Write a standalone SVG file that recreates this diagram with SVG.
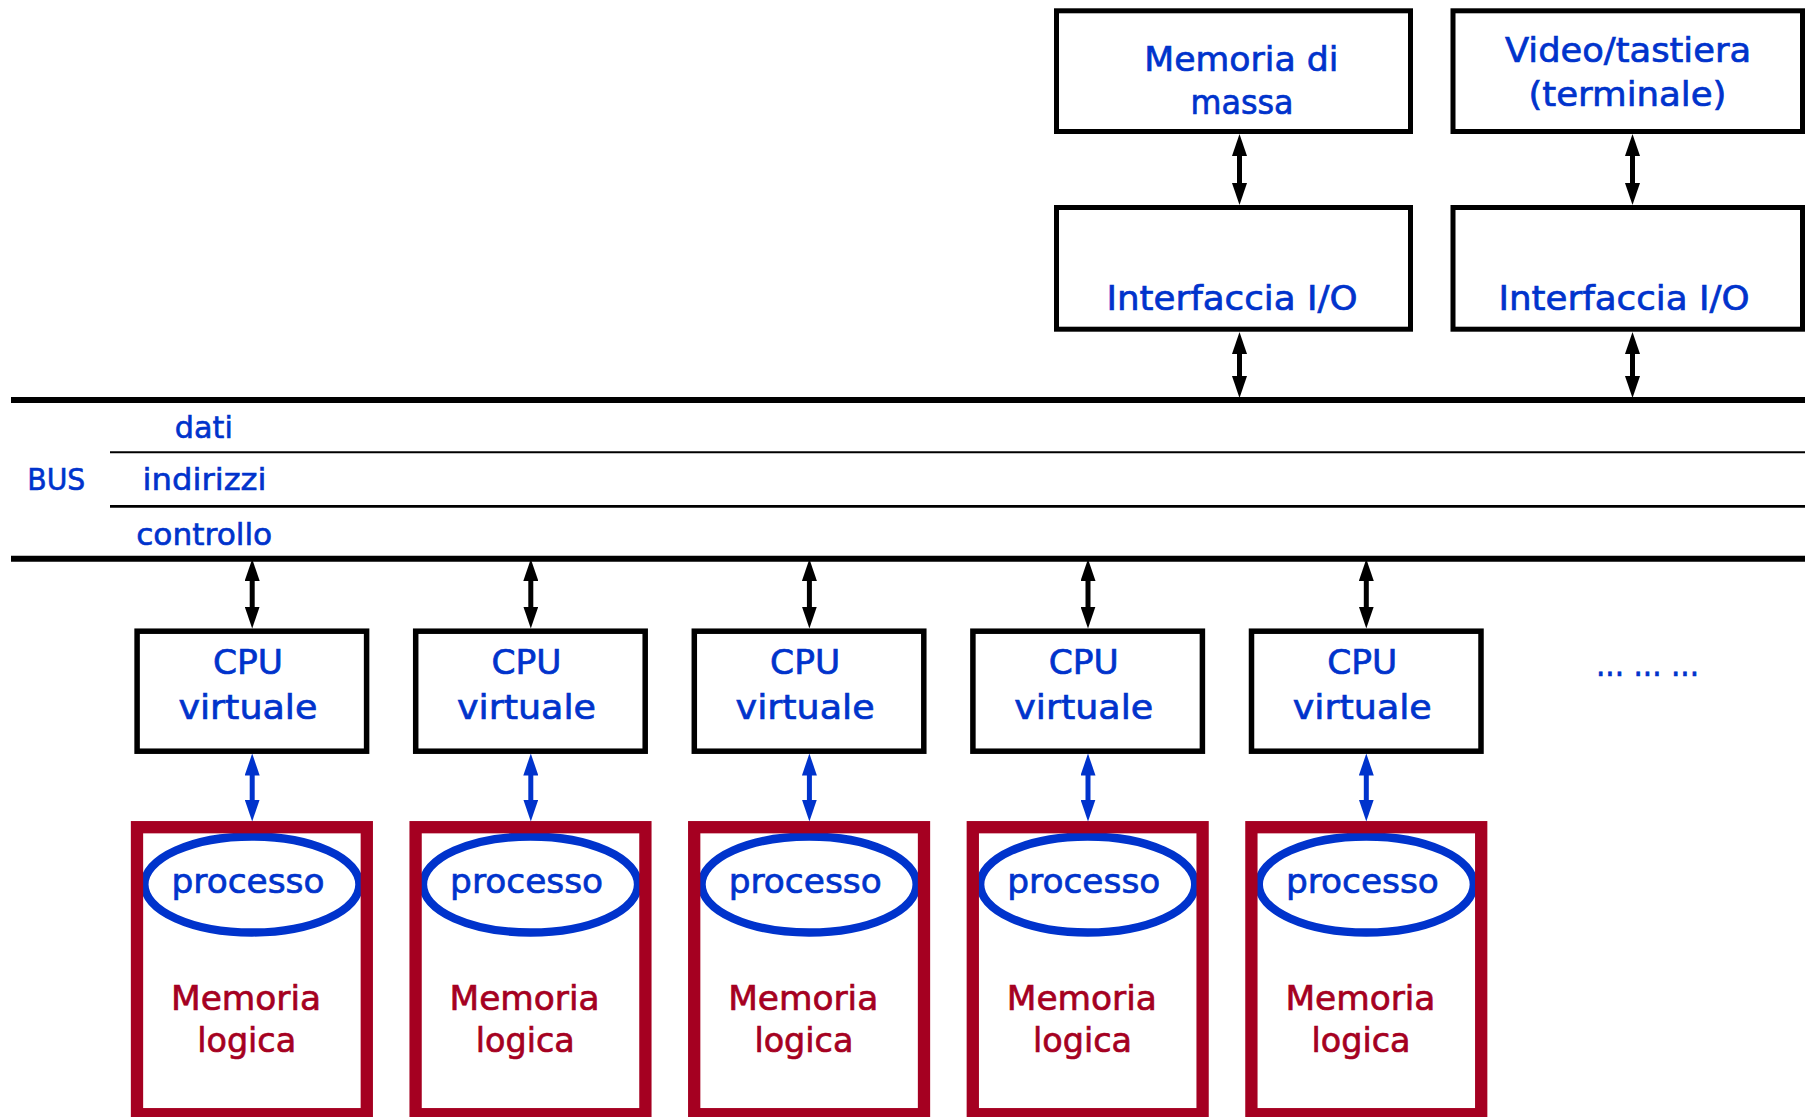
<svg xmlns="http://www.w3.org/2000/svg" width="1805" height="1117" viewBox="0 0 1805 1117">
<style>
  .box{fill:#fff;stroke:#000;stroke-width:5}
  .mem{fill:none;stroke:#A50021;stroke-width:12.3}
  .proc{fill:#fff;stroke:#0033CC;stroke-width:8.3}
  .t{font-family:"DejaVu Sans",Verdana,sans-serif;font-size:34.5px;fill:#0033CC;stroke:#0033CC;stroke-width:0.7;text-anchor:middle}
  .tb{font-family:"DejaVu Sans",Verdana,sans-serif;font-size:30px;fill:#0033CC;stroke:#0033CC;stroke-width:0.6;text-anchor:middle}
  .tr{font-family:"DejaVu Sans",Verdana,sans-serif;font-size:34.5px;fill:#A50021;stroke:#A50021;stroke-width:0.7;text-anchor:middle}
  .ak{stroke:#000;stroke-width:5;fill:none;marker-start:url(#hk);marker-end:url(#hk)}
  .ab{stroke:#0033CC;stroke-width:5;fill:none;marker-start:url(#hb);marker-end:url(#hb)}
  .bus{stroke:#000;stroke-width:6}
</style>
<defs>
  <marker id="hk" viewBox="0 0 22 15" refX="12" refY="7.5" markerWidth="22" markerHeight="15" markerUnits="userSpaceOnUse" orient="auto-start-reverse"><path d="M0,0 L22,7.5 L0,15 z" fill="#000"/></marker>
  <marker id="hb" viewBox="0 0 22 15" refX="12" refY="7.5" markerWidth="22" markerHeight="15" markerUnits="userSpaceOnUse" orient="auto-start-reverse"><path d="M0,0 L22,7.5 L0,15 z" fill="#0033CC"/></marker>
</defs>
<rect width="1805" height="1117" fill="#fff"/>

<g id="bus">
  <line class="bus" x1="11" y1="400" x2="1805" y2="400"/>
  <line x1="110" y1="452.2" x2="1805" y2="452.2" stroke="#000" stroke-width="2"/>
  <line x1="110" y1="506.3" x2="1805" y2="506.3" stroke="#000" stroke-width="2.7"/>
  <line class="bus" x1="11" y1="558.7" x2="1805" y2="558.7"/>
  <text class="tb" x="56.3" y="490" textLength="58" lengthAdjust="spacingAndGlyphs">BUS</text>
  <text class="tb" x="203.8" y="437.7" textLength="58" lengthAdjust="spacingAndGlyphs">dati</text>
  <text class="tb" x="204.5" y="490" textLength="124" lengthAdjust="spacingAndGlyphs">indirizzi</text>
  <text class="tb" x="204.2" y="545" textLength="136" lengthAdjust="spacingAndGlyphs">controllo</text>
</g>

<g id="memoria-di-massa">
  <rect class="box" x="1056.5" y="10.8" width="354" height="120.7"/>
  <text class="t" x="1241.3" y="70.7" textLength="194" lengthAdjust="spacingAndGlyphs">Memoria di</text>
  <text class="t" x="1242" y="114" textLength="103" lengthAdjust="spacingAndGlyphs">massa</text>
</g>
<g id="video-tastiera">
  <rect class="box" x="1453" y="10.8" width="349.5" height="120.7"/>
  <text class="t" x="1628" y="62" textLength="246" lengthAdjust="spacingAndGlyphs">Video/tastiera</text>
  <text class="t" x="1627.4" y="105.5" textLength="198" lengthAdjust="spacingAndGlyphs">(terminale)</text>
</g>
<g id="interfaccia-1">
  <rect class="box" x="1056.5" y="207.5" width="354" height="121.7"/>
  <text class="t" x="1232" y="310" textLength="251" lengthAdjust="spacingAndGlyphs">Interfaccia I/O</text>
</g>
<g id="interfaccia-2">
  <rect class="box" x="1453" y="207.5" width="349.5" height="121.7"/>
  <text class="t" x="1624" y="310" textLength="251" lengthAdjust="spacingAndGlyphs">Interfaccia I/O</text>
</g>

<g id="cpu-1">
  <rect class="box" x="137.1" y="631.2" width="229.5" height="120" style="stroke-width:5.5"/>
  <text class="t" x="247.9" y="674" textLength="70" lengthAdjust="spacingAndGlyphs">CPU</text>
  <text class="t" x="247.9" y="719.3" textLength="139" lengthAdjust="spacingAndGlyphs">virtuale</text>
</g>
<g id="cpu-2">
  <rect class="box" x="415.7" y="631.2" width="229.5" height="120" style="stroke-width:5.5"/>
  <text class="t" x="526.5" y="674" textLength="70" lengthAdjust="spacingAndGlyphs">CPU</text>
  <text class="t" x="526.5" y="719.3" textLength="139" lengthAdjust="spacingAndGlyphs">virtuale</text>
</g>
<g id="cpu-3">
  <rect class="box" x="694.3" y="631.2" width="229.5" height="120" style="stroke-width:5.5"/>
  <text class="t" x="805.1" y="674" textLength="70" lengthAdjust="spacingAndGlyphs">CPU</text>
  <text class="t" x="805.1" y="719.3" textLength="139" lengthAdjust="spacingAndGlyphs">virtuale</text>
</g>
<g id="cpu-4">
  <rect class="box" x="972.9" y="631.2" width="229.5" height="120" style="stroke-width:5.5"/>
  <text class="t" x="1083.7" y="674" textLength="70" lengthAdjust="spacingAndGlyphs">CPU</text>
  <text class="t" x="1083.7" y="719.3" textLength="139" lengthAdjust="spacingAndGlyphs">virtuale</text>
</g>
<g id="cpu-5">
  <rect class="box" x="1251.5" y="631.2" width="229.5" height="120" style="stroke-width:5.5"/>
  <text class="t" x="1362.3" y="674" textLength="70" lengthAdjust="spacingAndGlyphs">CPU</text>
  <text class="t" x="1362.3" y="719.3" textLength="139" lengthAdjust="spacingAndGlyphs">virtuale</text>
</g>

<g id="dots">
  <text class="t" x="1596" y="675.5" style="text-anchor:start" textLength="103" lengthAdjust="spacingAndGlyphs">... ... ...</text>
</g>

<g id="mem-1">
  <ellipse class="proc" cx="251.9" cy="884.5" rx="107.5" ry="48"/>
  <rect class="mem" x="137" y="827.2" width="229.8" height="287"/>
  <text class="t" x="248" y="893.3" textLength="153" lengthAdjust="spacingAndGlyphs">processo</text>
  <text class="tr" x="246" y="1010" textLength="150" lengthAdjust="spacingAndGlyphs">Memoria</text>
  <text class="tr" x="246.7" y="1052.3" textLength="99" lengthAdjust="spacingAndGlyphs">logica</text>
</g>
<g id="mem-2">
  <ellipse class="proc" cx="530.5" cy="884.5" rx="107.5" ry="48"/>
  <rect class="mem" x="415.6" y="827.2" width="229.8" height="287"/>
  <text class="t" x="526.6" y="893.3" textLength="153" lengthAdjust="spacingAndGlyphs">processo</text>
  <text class="tr" x="524.6" y="1010" textLength="150" lengthAdjust="spacingAndGlyphs">Memoria</text>
  <text class="tr" x="525.3" y="1052.3" textLength="99" lengthAdjust="spacingAndGlyphs">logica</text>
</g>
<g id="mem-3">
  <ellipse class="proc" cx="809.1" cy="884.5" rx="107.5" ry="48"/>
  <rect class="mem" x="694.2" y="827.2" width="229.8" height="287"/>
  <text class="t" x="805.2" y="893.3" textLength="153" lengthAdjust="spacingAndGlyphs">processo</text>
  <text class="tr" x="803.2" y="1010" textLength="150" lengthAdjust="spacingAndGlyphs">Memoria</text>
  <text class="tr" x="803.9" y="1052.3" textLength="99" lengthAdjust="spacingAndGlyphs">logica</text>
</g>
<g id="mem-4">
  <ellipse class="proc" cx="1087.7" cy="884.5" rx="107.5" ry="48"/>
  <rect class="mem" x="972.8" y="827.2" width="229.8" height="287"/>
  <text class="t" x="1083.8" y="893.3" textLength="153" lengthAdjust="spacingAndGlyphs">processo</text>
  <text class="tr" x="1081.8" y="1010" textLength="150" lengthAdjust="spacingAndGlyphs">Memoria</text>
  <text class="tr" x="1082.5" y="1052.3" textLength="99" lengthAdjust="spacingAndGlyphs">logica</text>
</g>
<g id="mem-5">
  <ellipse class="proc" cx="1366.3" cy="884.5" rx="107.5" ry="48"/>
  <rect class="mem" x="1251.4" y="827.2" width="229.8" height="287"/>
  <text class="t" x="1362.4" y="893.3" textLength="153" lengthAdjust="spacingAndGlyphs">processo</text>
  <text class="tr" x="1360.4" y="1010" textLength="150" lengthAdjust="spacingAndGlyphs">Memoria</text>
  <text class="tr" x="1361.1" y="1052.3" textLength="99" lengthAdjust="spacingAndGlyphs">logica</text>
</g>

<g id="connectors">
  <line class="ak" x1="1239.5" y1="144" x2="1239.5" y2="195"/>
  <line class="ak" x1="1632.5" y1="144" x2="1632.5" y2="195"/>
  <line class="ak" x1="1239.5" y1="342" x2="1239.5" y2="388"/>
  <line class="ak" x1="1632.5" y1="342" x2="1632.5" y2="388"/>
  <line class="ak" x1="252.2" y1="569" x2="252.2" y2="618.5"/>
  <line class="ak" x1="530.8" y1="569" x2="530.8" y2="618.5"/>
  <line class="ak" x1="809.4" y1="569" x2="809.4" y2="618.5"/>
  <line class="ak" x1="1088" y1="569" x2="1088" y2="618.5"/>
  <line class="ak" x1="1366.3" y1="569" x2="1366.3" y2="618.5"/>
  <line class="ab" x1="252.2" y1="763.5" x2="252.2" y2="811.5"/>
  <line class="ab" x1="530.8" y1="763.5" x2="530.8" y2="811.5"/>
  <line class="ab" x1="809.4" y1="763.5" x2="809.4" y2="811.5"/>
  <line class="ab" x1="1088" y1="763.5" x2="1088" y2="811.5"/>
  <line class="ab" x1="1366.3" y1="763.5" x2="1366.3" y2="811.5"/>
</g>
</svg>
